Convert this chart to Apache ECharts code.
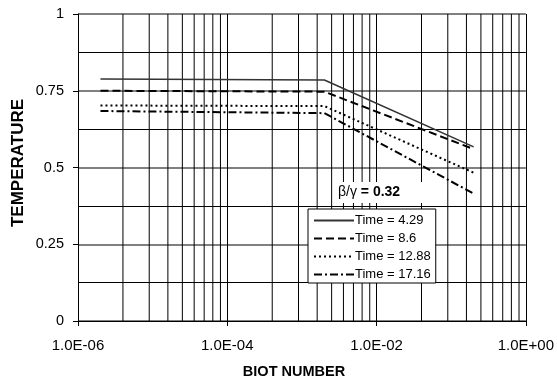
<!DOCTYPE html>
<html>
<head>
<meta charset="utf-8">
<script src="https://cdn.jsdelivr.net/npm/echarts@6/dist/echarts.min.js"></script>
<style>
  html, body { margin: 0; padding: 0; background: #fff; }
  #chart { width: 557px; height: 382px; }
</style>
</head>
<body>
<div id="chart"></div>
<script>
// Biot numbers at which each temperature curve is evaluated
const biot = [2e-6, 2e-3, 2e-1];

// Dimensionless temperature for each time
const time429 = [0.788, 0.785, 0.567];
const time86 = [0.750, 0.747, 0.560];
const time1288 = [0.702, 0.700, 0.483];
const time1716 = [0.684, 0.677, 0.415];

const seriesNames = ['Time = 4.29', 'Time = 8.6', 'Time = 12.88', 'Time = 17.16'];
const yTicks = [0, 0.25, 0.5, 0.75, 1];

// Decade-pair starts of the log axis; minor grid at base * k^2 (k = 2..9)
const majorBases = [1e-6, 1e-4, 1e-2];
const minorMultipliers = [2, 3, 4, 5, 6, 7, 8, 9];

const FONT = '"Liberation Sans", Arial, sans-serif';

function expLabel(v) {
  const e = Math.round(Math.log10(v));
  const sign = e < 0 ? '-' : '+';
  const a = Math.abs(e);
  return '1.0E' + sign + (a < 10 ? '0' + a : String(a));
}

function pairs(ys) { return biot.map((x, i) => [x, ys[i]]); }

const styles = [
  { color: '#333', width: 1.5, type: 'solid' },
  { color: '#000', width: 2, type: [8, 4] },
  { color: '#000', width: 2, type: [2, 3] },
  { color: '#000', width: 2, type: [8, 3, 2, 3] }
];
const values = [time429, time86, time1288, time1716];

const series = [];

// Minor vertical grid lines, each spanning the full temperature range
majorBases.forEach(b => minorMultipliers.forEach(k => {
  const x = b * k * k;
  series.push({
    type: 'line',
    data: [[x, yTicks[0]], [x, yTicks[yTicks.length - 1]]],
    symbol: 'none',
    silent: true,
    z: 1,
    lineStyle: { color: '#000', width: 1, type: 'solid' },
    emphasis: { disabled: true },
    tooltip: { show: false }
  });
}));

values.forEach((ys, i) => series.push({
  name: seriesNames[i],
  type: 'line',
  data: pairs(ys),
  symbol: 'none',
  z: 5,
  lineStyle: styles[i],
  itemStyle: { color: styles[i].color, opacity: 0 }
}));

const chart = echarts.init(document.getElementById('chart'), null, { renderer: 'canvas' });
chart.setOption({
  animation: false,
  backgroundColor: '#fff',
  textStyle: { fontFamily: FONT },
  grid: { left: 78, top: 14, width: 451, height: 307, containLabel: false },
  xAxis: {
    type: 'log',
    logBase: 100,
    min: 1e-6,
    max: 1,
    splitNumber: 3,
    axisLine: { show: true, onZero: false, lineStyle: { color: '#000', width: 1 } },
    axisTick: { show: true, inside: false, length: 5, lineStyle: { color: '#000' } },
    axisLabel: { fontFamily: FONT, fontSize: 15, color: '#000', margin: 17, formatter: expLabel, showMinLabel: true, showMaxLabel: true },
    splitLine: { show: true, lineStyle: { color: '#000', width: 1 } },
    minorTick: { show: false },
    minorSplitLine: { show: false }
  },
  yAxis: {
    type: 'value',
    min: yTicks[0],
    max: yTicks[yTicks.length - 1],
    interval: 0.25,
    axisLine: { show: true, lineStyle: { color: '#000', width: 1 } },
    axisTick: { show: true, inside: false, length: 5, lineStyle: { color: '#000' } },
    axisLabel: { fontFamily: FONT, fontSize: 14.5, color: '#000', margin: 14, formatter: v => String(v) },
    splitLine: { show: true, lineStyle: { color: '#808080', width: 2 } },
    minorTick: { show: false, splitNumber: 2 },
    minorSplitLine: { show: true, lineStyle: { color: '#000', width: 1 } }
  },
  legend: {
    show: true,
    orient: 'vertical',
    left: 308,
    top: 209,
    width: 129,
    backgroundColor: '#fff',
    borderColor: '#000',
    borderWidth: 1,
    borderRadius: 0,
    padding: [5, 5, 2, 5],
    itemWidth: 40,
    itemHeight: 14,
    itemGap: 5,
    selectedMode: false,
    data: seriesNames,
    textStyle: { fontFamily: FONT, fontSize: 13, color: '#000', padding: [0, 0, 0, -4] }
  },
  graphic: [
    {
      type: 'rect',
      left: 334,
      top: 182,
      shape: { width: 89, height: 21 },
      style: { fill: '#fff' },
      z: 10,
      silent: true
    },
    {
      type: 'text',
      left: 338,
      top: 185,
      z: 11,
      silent: true,
      style: {
        text: '{n|β/γ}{b| = 0.32}',
        rich: {
          n: { fontFamily: FONT, fontSize: 14, color: '#000' },
          b: { fontFamily: FONT, fontSize: 14, fontWeight: 'bold', color: '#000' }
        }
      }
    },
    {
      type: 'text',
      x: 294,
      y: 372,
      silent: true,
      style: {
        text: 'BIOT NUMBER',
        fontFamily: FONT,
        fontSize: 14.5,
        fontWeight: 'bold',
        fill: '#000',
        align: 'center',
        verticalAlign: 'middle'
      }
    },
    {
      type: 'text',
      x: 18,
      y: 163,
      rotation: Math.PI / 2,
      silent: true,
      style: {
        text: 'TEMPERATURE',
        fontFamily: FONT,
        fontSize: 17,
        fontWeight: 'bold',
        fill: '#000',
        align: 'center',
        verticalAlign: 'middle'
      }
    }
  ],
  series: series
});
</script>
</body>
</html>
